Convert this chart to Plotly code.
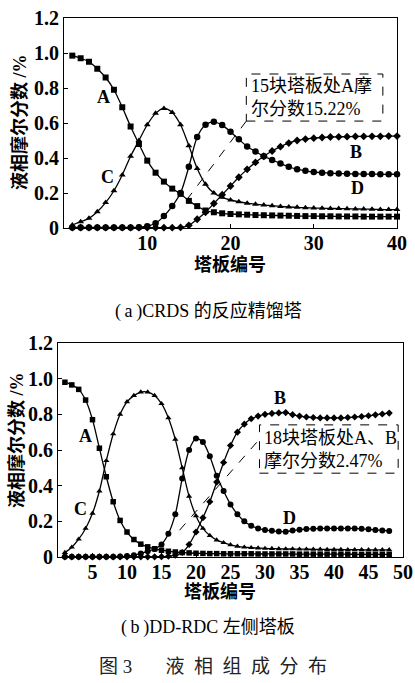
import plotly.graph_objects as go

# ---------------- data ----------------
trays_a = list(range(1, 41))
a_A = [0.985, 0.97, 0.95, 0.91, 0.86, 0.79, 0.69, 0.58, 0.48, 0.385,
       0.316, 0.265, 0.225, 0.195, 0.155, 0.125, 0.1, 0.09, 0.084, 0.08,
       0.078, 0.076, 0.074, 0.073, 0.072, 0.071, 0.07, 0.069, 0.068, 0.068,
       0.067, 0.067, 0.066, 0.066, 0.066, 0.065, 0.065, 0.065, 0.065, 0.065]
a_C = [0.017, 0.036, 0.055, 0.093, 0.145, 0.213, 0.303, 0.41, 0.5, 0.59,
       0.655, 0.683, 0.66, 0.59, 0.47, 0.34, 0.25, 0.2, 0.175, 0.16,
       0.15, 0.142, 0.136, 0.131, 0.127, 0.123, 0.12, 0.118, 0.116, 0.114,
       0.113, 0.112, 0.111, 0.11, 0.109, 0.108, 0.107, 0.106, 0.105, 0.105]
a_D = [0.003, 0.003, 0.003, 0.003, 0.003, 0.003, 0.003, 0.003, 0.004, 0.01,
       0.027, 0.068, 0.125, 0.2, 0.35, 0.52, 0.59, 0.607, 0.588, 0.55,
       0.507, 0.466, 0.437, 0.41, 0.389, 0.368, 0.35, 0.336, 0.327, 0.32,
       0.316, 0.313, 0.311, 0.31, 0.309, 0.308, 0.308, 0.307, 0.307, 0.307]
a_B = [0.002, 0.002, 0.002, 0.002, 0.002, 0.002, 0.002, 0.002, 0.002, 0.002,
       0.002, 0.002, 0.002, 0.003, 0.015, 0.05, 0.09, 0.14, 0.19, 0.24,
       0.29, 0.335, 0.375, 0.41, 0.44, 0.465, 0.485, 0.5, 0.508, 0.513,
       0.517, 0.52, 0.521, 0.522, 0.523, 0.523, 0.524, 0.524, 0.525, 0.525]

trays_b = list(range(1, 49))
b_A = [0.98, 0.965, 0.94, 0.88, 0.77, 0.61, 0.45, 0.31, 0.205, 0.14,
       0.098, 0.072, 0.057, 0.046, 0.038, 0.032, 0.028, 0.025, 0.023, 0.021,
       0.02, 0.019, 0.019, 0.018, 0.018, 0.018, 0.018, 0.018, 0.017, 0.017,
       0.017, 0.017, 0.017, 0.017, 0.016, 0.016, 0.016, 0.016, 0.016, 0.016,
       0.016, 0.016, 0.015, 0.015, 0.015, 0.015, 0.015, 0.015]
b_C = [0.025, 0.055, 0.1, 0.16, 0.245, 0.37, 0.54, 0.69, 0.8, 0.87,
       0.905, 0.925, 0.925, 0.905, 0.86, 0.78, 0.66, 0.5, 0.34, 0.23,
       0.16, 0.12, 0.095, 0.08, 0.068, 0.06, 0.055, 0.052, 0.05, 0.048,
       0.047, 0.046, 0.045, 0.045, 0.044, 0.044, 0.043, 0.043, 0.042, 0.042,
       0.042, 0.041, 0.041, 0.041, 0.04, 0.04, 0.04, 0.04]
b_D = [0.002, 0.002, 0.002, 0.002, 0.002, 0.002, 0.002, 0.002, 0.003, 0.005,
       0.01, 0.02, 0.032, 0.045, 0.07, 0.13, 0.24, 0.44, 0.6, 0.665,
       0.645, 0.565, 0.455, 0.37, 0.295, 0.24, 0.2, 0.175, 0.16, 0.152,
       0.147, 0.143, 0.142, 0.148, 0.153, 0.157, 0.158, 0.16, 0.16, 0.16,
       0.16, 0.16, 0.16, 0.158, 0.155, 0.152, 0.149, 0.146]
b_B = [0.001, 0.001, 0.001, 0.001, 0.001, 0.001, 0.001, 0.001, 0.001, 0.001,
       0.001, 0.001, 0.001, 0.001, 0.002, 0.004, 0.01, 0.025, 0.07, 0.14,
       0.22, 0.31, 0.42, 0.53, 0.625, 0.7, 0.745, 0.775, 0.79, 0.8,
       0.805, 0.808, 0.81, 0.798, 0.79, 0.785, 0.782, 0.78, 0.78, 0.78,
       0.78, 0.782, 0.785, 0.788, 0.792, 0.797, 0.802, 0.807]

y_ticks = [0, 0.2, 0.4, 0.6, 0.8, 1.0, 1.2]
y_tick_text = ["0", "0.2", "0.4", "0.6", "0.8", "1.0", "1.2"]
x_ticks_a = [10, 20, 30, 40]
x_ticks_b = [5, 10, 15, 20, 25, 30, 35, 40, 45, 50]

# ---------------- figure ----------------
W, H = 415, 683
CJK = "Liberation Serif, Noto Sans CJK SC"

fig = go.Figure()

def add_series(xs, ys, sym, size, xa, ya):
    fig.add_trace(go.Scatter(
        x=xs, y=ys, xaxis=xa, yaxis=ya, mode="lines+markers",
        line=dict(color="black", width=1.3, shape="spline", smoothing=0.8),
        marker=dict(symbol=sym, size=size, color="black"),
        showlegend=False, hoverinfo="skip", cliponaxis=False))

add_series(trays_a, a_A, "square", 6, "x", "y")
add_series(trays_a, a_C, "triangle-up", 6, "x", "y")
add_series(trays_a, a_D, "circle", 6.5, "x", "y")
add_series(trays_a, a_B, "diamond", 6, "x", "y")

add_series(trays_b, b_A, "square", 5.5, "x2", "y2")
add_series(trays_b, b_C, "triangle-up", 5.5, "x2", "y2")
add_series(trays_b, b_D, "circle", 6, "x2", "y2")
add_series(trays_b, b_B, "diamond", 5.5, "x2", "y2")

def px_x(p):
    return p / W

def px_y(p):
    return 1 - p / H

axis_common = dict(showline=True, linecolor="black", linewidth=1.2, mirror=True,
                   ticks="inside", ticklen=4, tickcolor="black", showgrid=False,
                   zeroline=False, automargin=False, ticklabeloverflow="allow",
                   tickfont=dict(family="Liberation Serif", size=20, color="black", weight="bold"))

fig.update_layout(
    width=W, height=H, margin=dict(l=0, r=0, t=0, b=0, pad=0, autoexpand=False),
    showlegend=False,
    paper_bgcolor="white", plot_bgcolor="white",
    xaxis=dict(domain=[px_x(64), px_x(397)], range=[0, 40], tickvals=x_ticks_a,
               anchor="y", ticklabelstandoff=-3, **axis_common),
    yaxis=dict(domain=[px_y(228), px_y(18)], range=[0, 1.2], tickvals=y_ticks,
               ticktext=y_tick_text, anchor="x", **axis_common),
    xaxis2=dict(domain=[px_x(58), px_x(403)], range=[0, 50], tickvals=x_ticks_b,
                anchor="y2", ticklabelstandoff=-3, **axis_common),
    yaxis2=dict(domain=[px_y(557), px_y(343)], range=[0, 1.2], tickvals=y_ticks,
                ticktext=y_tick_text, anchor="x2", **axis_common),
)

ann = []
lab_font = dict(family="Liberation Serif", size=18, color="black", weight="bold")
for t, x, y in [("A", 4.7, 0.75), ("C", 5.2, 0.29), ("B", 35.1, 0.435), ("D", 35.3, 0.23)]:
    ann.append(dict(text=t, x=x, y=y, xref="x", yref="y", showarrow=False, font=lab_font,
                    xanchor="center", yanchor="middle"))
for t, x, y in [("A", 4.0, 0.68), ("C", 3.3, 0.27), ("B", 32.2, 0.89), ("D", 33.6, 0.22)]:
    ann.append(dict(text=t, x=x, y=y, xref="x2", yref="y2", showarrow=False, font=lab_font,
                    xanchor="center", yanchor="middle"))

box_font = dict(family=CJK, size=18, color="black")
ann.append(dict(text="15块塔板处A摩<br>尔分数15.22%", x=22.2, y=0.745, xref="x", yref="y",
                xanchor="left", yanchor="middle", align="left", showarrow=False, font=box_font))
ann.append(dict(text="18块塔板处A、B<br>摩尔分数2.47%", x=29.6, y=0.605, xref="x2", yref="y2",
                xanchor="left", yanchor="middle", align="left", showarrow=False, font=box_font))

def paper_text(text, sx, sy, font, angle=0):
    ann.append(dict(text=text, x=px_x(sx), y=px_y(sy), xref="paper", yref="paper",
                    xanchor="center", yanchor="middle", textangle=angle,
                    showarrow=False, font=font))

title_font = dict(family=CJK, size=18, color="black", weight="bold")
paper_text("液相摩尔分数 /%", 19, 122, title_font, -90)
paper_text("液相摩尔分数 /%", 16, 440, title_font, -90)
paper_text("塔板编号", 230, 265, title_font)
paper_text("塔板编号", 220, 591, title_font)

cap_font = dict(family=CJK, size=18, color="black")
paper_text("(\u2009a\u2009)CRDS 的反应精馏塔", 208, 311, cap_font)
paper_text("(\u2009b\u2009)DD-RDC 左侧塔板", 208, 627, cap_font)
paper_text("图\u00a03\u00a0\u00a0\u00a0\u00a0\u00a0\u00a0\u00a0液\u00a0\u00a0相\u00a0\u00a0组\u00a0\u00a0成\u00a0\u00a0分\u00a0\u00a0布",
           213, 666, dict(family=CJK, size=19, color="#222"))
fig.update_layout(annotations=ann)

shapes = [
    dict(type="rect", xref="x", yref="y", x0=21.9, x1=38.3, y0=0.611, y1=0.88,
         line=dict(color="black", width=1, dash="dash"), fillcolor="rgba(0,0,0,0)"),
    dict(type="line", xref="x", yref="y", x0=21.9, y0=0.611, x1=14.9, y1=0.171,
         line=dict(color="black", width=1, dash="dash")),
    dict(type="rect", xref="x2", yref="y2", x0=29.2, x1=49.3, y0=0.47, y1=0.741,
         line=dict(color="black", width=1, dash="dash"), fillcolor="rgba(0,0,0,0)"),
    dict(type="line", xref="x2", yref="y2", x0=28.8, y0=0.643, x1=17.25, y1=0.134,
         line=dict(color="black", width=1, dash="dash")),
]
fig.update_layout(shapes=shapes)

fig.write_html("out.html", config={"displayModeBar": False},
               post_script="document.body.style.margin='0';document.body.style.overflow='hidden';")
